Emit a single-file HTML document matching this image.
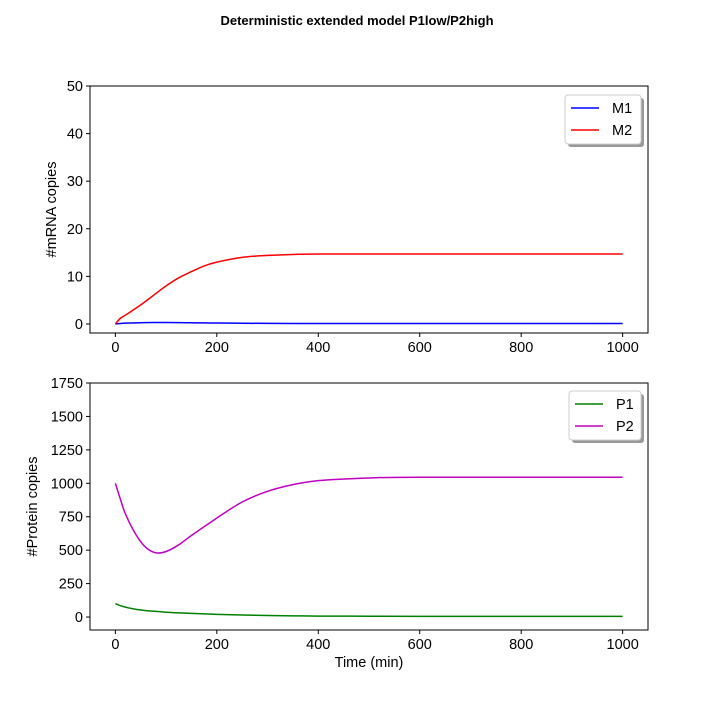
<!DOCTYPE html>
<html><head><meta charset="utf-8"><style>
body{margin:0;background:#fff;}
svg{font-family:"Liberation Sans",sans-serif;}
</style></head><body>
<svg id="fig" width="720" height="720" xmlns="http://www.w3.org/2000/svg">
<rect width="720" height="720" fill="#fff"/>
<text x="357" y="25" text-anchor="middle" font-size="13" font-weight="bold">Deterministic extended model P1low/P2high</text>
<g id="top"></g>
<g id="bot"></g>
</svg>
<script>
const xTicks=[0,200,400,600,800,1000];
const mTicks=[0,10,20,30,40,50];
const pTicks=[0,250,500,750,1000,1250,1500,1750];
const tM=[0,10,25,50,75,100,125,150,175,200,250,300,350,400,600,1000];
const m1=[0,0.1,0.2,0.25,0.3,0.3,0.28,0.25,0.22,0.2,0.15,0.12,0.1,0.1,0.1,0.1];
const m2=[0,1.2,2.2,4,6,8,9.7,11,12.2,13,14,14.4,14.6,14.7,14.7,14.7];
const tP=[0,10,20,40,60,80,100,125,150,200,250,300,350,400,500,600,1000];
const p1=[100,85,74,58,48,42,36,31,27,20,15,11,9,7,6,5,5];
const p2=[1000,880,770,620,520,480,490,540,610,740,860,940,990,1020,1040,1045,1045];
const NS="http://www.w3.org/2000/svg";
function el(p,t,a){const e=document.createElementNS(NS,t);for(const k in a)e.setAttribute(k,a[k]);p.appendChild(e);return e;}
function smooth(pts){
 let d='M'+pts[0][0]+','+pts[0][1];
 for(let i=0;i<pts.length-1;i++){
  const p0=pts[Math.max(0,i-1)],p1=pts[i],p2=pts[i+1],p3=pts[Math.min(pts.length-1,i+2)];
  const c1x=p1[0]+(p2[0]-p0[0])/6,c1y=p1[1]+(p2[1]-p0[1])/6;
  const c2x=p2[0]-(p3[0]-p1[0])/6,c2y=p2[1]-(p3[1]-p1[1])/6;
  d+=` C${c1x},${c1y} ${c2x},${c2y} ${p2[0]},${p2[1]}`;
 }
 return d;
}
function panel(g,top,bottom,ymin,ymax,yt,ylabel,series,legend,xlabel){
 const L=90,R=648,xmin=-50,xmax=1050;
 const sx=v=>L+(v-xmin)/(xmax-xmin)*(R-L);
 const sy=v=>bottom-(v-ymin)/(ymax-ymin)*(bottom-top);
 for(const s of series){
  const pl=el(g,'path',{d:smooth(s.t.map((t,i)=>[sx(t),sy(s.v[i])])),fill:'none',stroke:s.c,'stroke-width':1.5});
  
  
 }
 const fr=el(g,'rect',{x:L,y:top,width:R-L,height:bottom-top,fill:'none',stroke:'#000','stroke-width':1});
 
 
 for(const v of xTicks){
  el(g,'line',{x1:sx(v),x2:sx(v),y1:bottom,y2:bottom+4,stroke:'#000'});
  const t=el(g,'text',{x:sx(v),y:bottom+19,'text-anchor':'middle','font-size':14.5});t.textContent=v;
  
  
 }
 for(const v of yt){
  el(g,'line',{x1:L-4,x2:L,y1:sy(v),y2:sy(v),stroke:'#000'});
  const t=el(g,'text',{x:L-7,y:sy(v)+5,'text-anchor':'end','font-size':14.5});t.textContent=v;
  
  
 }
 const yl=el(g,'text',{x:0,y:0,'text-anchor':'middle','font-size':14.5,transform:`translate(${ylabel.x},${(top+bottom)/2}) rotate(-90)`});yl.textContent=ylabel.t;
 
 
 if(xlabel){const xl=el(g,'text',{x:(L+R)/2,y:bottom+37,'text-anchor':'middle','font-size':14.5});xl.textContent=xlabel;
  
  }
 const lg=el(g,'g',{});
 
 
 el(lg,'rect',{x:legend.x+3,y:legend.y+3,width:legend.w,height:49,rx:3,fill:'#999'});
 el(lg,'rect',{x:legend.x,y:legend.y,width:legend.w,height:49,rx:3,fill:'#fff',stroke:'#ccc'});
 series.forEach((s,i)=>{
  const y=legend.y+13+i*22;
  el(lg,'line',{x1:legend.x+6,x2:legend.x+34,y1:y,y2:y,stroke:s.c,'stroke-width':1.5});
  const t=el(lg,'text',{x:legend.x+47,y:y+5,'font-size':14.5});t.textContent=s.name;
  
  
 });
}
panel(document.getElementById('top'),86,333,-1.9,50,mTicks,{x:56,t:'#mRNA copies'},
 [{name:'M1',t:tM,v:m1,c:'#0000ff'},{name:'M2',t:tM,v:m2,c:'#ff0000'}],{x:565,w:76,y:95},null);
panel(document.getElementById('bot'),383,630,-97,1750,pTicks,{x:37,t:'#Protein copies'},
 [{name:'P1',t:tP,v:p1,c:'#008000'},{name:'P2',t:tP,v:p2,c:'#bf00bf'}],{x:569,w:72,y:391},'Time (min)');
</script>
</body></html>
